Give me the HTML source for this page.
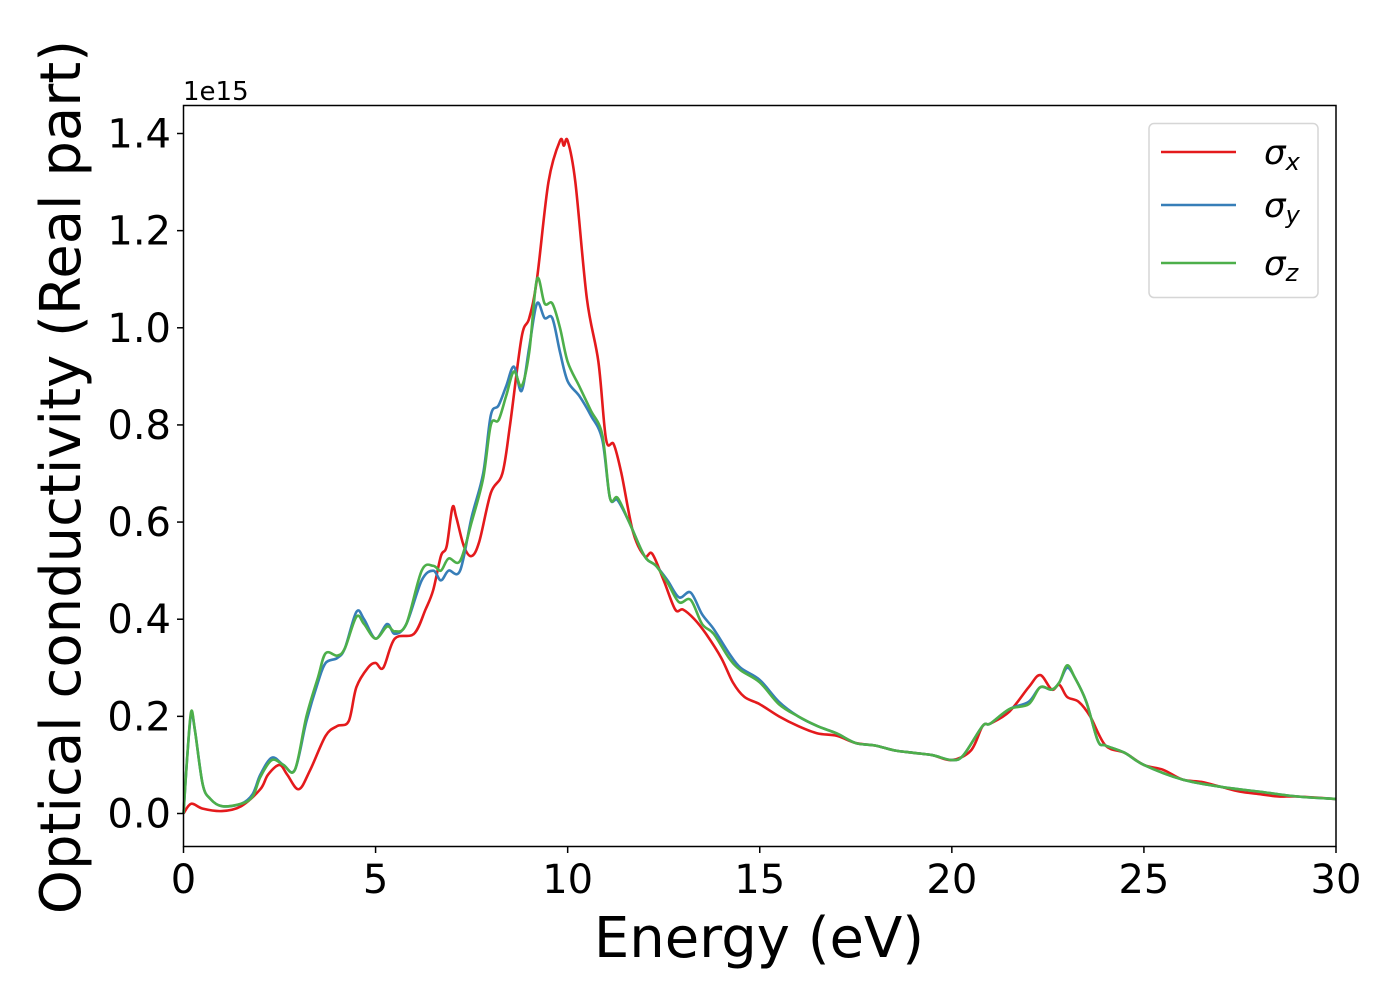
<!DOCTYPE html>
<html><head><meta charset="utf-8"><style>
body{margin:0;background:#fff;}
svg text{font-family:"DejaVu Sans","Liberation Sans",sans-serif;}
</style></head><body>
<svg id="chart" width="1400" height="1000">
<rect width="1400" height="1000" fill="#fff"/>
<g id="series"></g>
<rect x="183.5" y="105.5" width="1152.5" height="741" fill="none" stroke="#000" stroke-width="1.5"/>
<g id="axes"></g>
<text x="183" y="100" font-size="26">1e15</text>
<text x="759" y="957" font-size="56" text-anchor="middle">Energy (eV)</text>
<text transform="translate(80,477) rotate(-90)" font-size="56" text-anchor="middle">Optical conductivity (Real part)</text>
<g>
<rect x="1149" y="123.5" width="169" height="174" rx="5" fill="#fff" stroke="#d6d6d6" stroke-width="1.5"/>
<line x1="1161" y1="152" x2="1236" y2="152" stroke="#e41a1c" stroke-width="2.5"/>
<line x1="1161" y1="205" x2="1236" y2="205" stroke="#377eb8" stroke-width="2.5"/>
<line x1="1161" y1="263" x2="1236" y2="263" stroke="#4daf4a" stroke-width="2.5"/>
<text x="1264" y="164" font-size="34" font-style="italic">σ<tspan font-size="24" dy="6">x</tspan></text>
<text x="1264" y="217" font-size="34" font-style="italic">σ<tspan font-size="24" dy="6">y</tspan></text>
<text x="1264" y="275" font-size="34" font-style="italic">σ<tspan font-size="24" dy="6">z</tspan></text>
</g>
</svg>
<script>
const xTicks=[0,5,10,15,20,25,30];
const yTicks=[0.0,0.2,0.4,0.6,0.8,1.0,1.2,1.4];
const redE=[0,0.2,0.5,1,1.5,2,2.2,2.5,2.7,3,3.3,3.7,4,4.3,4.5,4.8,5,5.2,5.5,6,6.3,6.5,6.7,6.85,7,7.1,7.3,7.5,7.7,8,8.3,8.5,8.8,9,9.2,9.5,9.8,9.9,10,10.2,10.5,10.8,11,11.2,11.4,11.7,12,12.2,12.5,12.8,13,13.3,13.6,14,14.3,14.6,15,15.5,16,16.5,17,17.5,18,18.5,19,19.5,20,20.5,20.8,21,21.5,22,22.3,22.6,22.8,23,23.3,23.6,24,24.5,25,25.5,26,26.5,27,27.5,28,28.5,29,30];
const redV=[0,0.02,0.01,0.005,0.015,0.05,0.08,0.1,0.08,0.05,0.09,0.16,0.18,0.19,0.26,0.3,0.31,0.3,0.36,0.37,0.42,0.46,0.53,0.55,0.63,0.61,0.55,0.53,0.56,0.66,0.7,0.8,0.98,1.02,1.1,1.3,1.385,1.375,1.385,1.3,1.06,0.93,0.77,0.76,0.7,0.58,0.53,0.535,0.48,0.42,0.42,0.4,0.37,0.32,0.27,0.24,0.225,0.2,0.18,0.165,0.16,0.145,0.14,0.13,0.125,0.12,0.11,0.13,0.18,0.185,0.21,0.26,0.285,0.255,0.265,0.24,0.23,0.2,0.14,0.125,0.1,0.09,0.07,0.065,0.055,0.045,0.04,0.035,0.035,0.03];
const blueE=[0,0.1,0.2,0.3,0.5,0.7,1,1.5,1.8,2,2.3,2.6,2.9,3.2,3.5,3.7,4,4.2,4.5,4.7,5,5.3,5.5,5.8,6.2,6.5,6.7,6.9,7.2,7.5,7.8,8,8.2,8.4,8.6,8.8,9,9.2,9.4,9.6,9.8,10,10.3,10.6,10.9,11.1,11.3,11.6,12,12.3,12.6,12.9,13.2,13.5,13.8,14.2,14.5,15,15.5,16,16.5,17,17.5,18,18.5,19,19.5,20,20.3,20.8,21,21.5,22,22.3,22.6,22.8,23,23.2,23.5,23.8,24,24.5,25,26,27,28,29,30];
const blueV=[0,0.12,0.205,0.17,0.06,0.03,0.015,0.02,0.04,0.08,0.115,0.1,0.09,0.19,0.27,0.31,0.32,0.34,0.415,0.4,0.36,0.39,0.37,0.39,0.48,0.5,0.48,0.5,0.5,0.61,0.7,0.82,0.84,0.88,0.92,0.87,0.96,1.05,1.02,1.02,0.95,0.89,0.86,0.82,0.77,0.65,0.645,0.6,0.53,0.51,0.48,0.445,0.455,0.41,0.38,0.33,0.3,0.275,0.23,0.2,0.18,0.165,0.145,0.14,0.13,0.125,0.12,0.11,0.12,0.18,0.185,0.215,0.23,0.26,0.255,0.27,0.3,0.28,0.23,0.15,0.14,0.125,0.1,0.07,0.055,0.045,0.035,0.03];
const greenE=blueE;
const greenV=[0,0.12,0.21,0.17,0.06,0.03,0.015,0.02,0.035,0.075,0.11,0.1,0.09,0.2,0.28,0.33,0.325,0.34,0.405,0.39,0.36,0.385,0.375,0.39,0.5,0.51,0.5,0.525,0.52,0.6,0.69,0.8,0.81,0.86,0.91,0.88,0.95,1.1,1.05,1.05,1.0,0.93,0.88,0.83,0.78,0.65,0.65,0.6,0.53,0.51,0.475,0.435,0.44,0.39,0.37,0.32,0.295,0.27,0.225,0.2,0.18,0.165,0.145,0.14,0.13,0.125,0.12,0.11,0.12,0.18,0.185,0.215,0.225,0.26,0.255,0.27,0.305,0.28,0.23,0.15,0.14,0.125,0.1,0.07,0.055,0.045,0.035,0.03];

const X=v=>183.5+v*(1336-183.5)/30;
const Y=v=>813.5-v*(813.5-133.5)/1.4;
const NS='http://www.w3.org/2000/svg';
const ax=document.getElementById('axes');
xTicks.forEach(t=>{
  const l=document.createElementNS(NS,'line');
  l.setAttribute('x1',X(t));l.setAttribute('x2',X(t));l.setAttribute('y1',846.5);l.setAttribute('y2',853);
  l.setAttribute('stroke','#000');l.setAttribute('stroke-width','1.5');
  
  
  ax.appendChild(l);
  const tx=document.createElementNS(NS,'text');
  tx.setAttribute('x',X(t));tx.setAttribute('y',893);tx.setAttribute('font-size','40');tx.setAttribute('text-anchor','middle');
  tx.textContent=t;
  
  
  ax.appendChild(tx);
});
yTicks.forEach(t=>{
  const l=document.createElementNS(NS,'line');
  l.setAttribute('x1',177);l.setAttribute('x2',183.5);l.setAttribute('y1',Y(t));l.setAttribute('y2',Y(t));
  l.setAttribute('stroke','#000');l.setAttribute('stroke-width','1.5');
  
  
  ax.appendChild(l);
  const tx=document.createElementNS(NS,'text');
  tx.setAttribute('x',171);tx.setAttribute('y',Y(t)+14);tx.setAttribute('font-size','40');tx.setAttribute('text-anchor','end');
  tx.textContent=t.toFixed(1);
  
  
  ax.appendChild(tx);
});
function path(E,V){
  const p=E.map((e,i)=>[X(e),Y(V[i])]);
  let d='M'+p[0][0]+','+p[0][1];
  for(let i=0;i<p.length-1;i++){
    const p0=p[i-1]||p[i],p1=p[i],p2=p[i+1],p3=p[i+2]||p2;
    const c1=[p1[0]+(p2[0]-p0[0])/6,p1[1]+(p2[1]-p0[1])/6];
    const c2=[p2[0]-(p3[0]-p1[0])/6,p2[1]-(p3[1]-p1[1])/6];
    d+=' C'+c1+' '+c2+' '+p2;
  }
  return d;
}
const sg=document.getElementById('series');
[[redE,redV,'#e41a1c','series-sigma-x'],[blueE,blueV,'#377eb8','series-sigma-y'],[greenE,greenV,'#4daf4a','series-sigma-z']].forEach(s=>{
  const p=document.createElementNS(NS,'path');
  p.setAttribute('d',path(s[0],s[1]));
  p.setAttribute('fill','none');p.setAttribute('stroke',s[2]);p.setAttribute('stroke-width','2.6');
  
  
  sg.appendChild(p);
});
</script>
</body></html>
